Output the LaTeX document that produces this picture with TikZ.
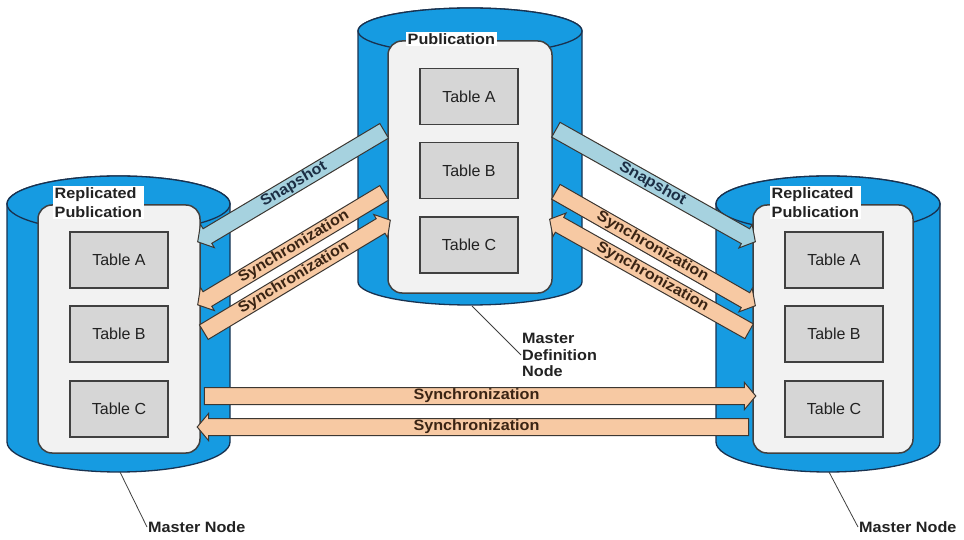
\documentclass[tikz,border=0pt]{standalone}
\usepackage{fontspec}
\setmainfont{Liberation Sans}
\newfontfamily\labfont[FakeStretch=1.08]{Liberation Sans}
\usetikzlibrary{calc,shapes.arrows}
\definecolor{cylblue}{RGB}{22,155,225}
\definecolor{cylline}{RGB}{25,50,80}
\definecolor{boxfill}{RGB}{242,242,242}
\definecolor{boxline}{RGB}{64,64,64}
\definecolor{tabfill}{RGB}{214,214,214}
\definecolor{snapfill}{RGB}{166,210,223}
\definecolor{syncfill}{RGB}{247,201,163}
\definecolor{arrline}{RGB}{60,55,50}
\definecolor{synctext}{RGB}{58,36,20}
\definecolor{snaptext}{RGB}{28,46,68}
\definecolor{txt}{RGB}{34,34,34}
\tikzset{
  cyl/.style={fill=cylblue, draw=cylline, line width=1.3pt},
  innerbox/.style={draw=boxline, fill=boxfill, line width=1.5pt, rounded corners=14pt},
  tablebox/.style={draw=boxline, fill=tabfill, line width=1.5pt, minimum width=98pt, minimum height=56pt, inner sep=0pt, font=\fontsize{16}{18}\selectfont, text=txt},
  titlelab/.style={fill=white, inner sep=1.5pt, font=\labfont\bfseries\fontsize{15}{19}\selectfont, text=txt, align=left},
  blockarr/.style={single arrow, draw=arrline, line width=1pt, single arrow head extend=5pt, single arrow tip angle=100, inner xsep=2pt, inner ysep=0.75pt, text height=11pt, text depth=3.5pt, font=\labfont\bfseries\fontsize{15}{17}\selectfont},
  snaparr/.style={blockarr, fill=snapfill, text=snaptext},
  syncarr/.style={blockarr, fill=syncfill, text=synctext},
  headleft/.style={shape border rotate=180},
  leader/.style={draw=boxline, line width=0.8pt},
  nodelabel/.style={inner sep=1pt, font=\labfont\bfseries\fontsize{15}{16.5}\selectfont, text=txt, align=left},
}
\newcommand\blockarrow[4]{%
  \path let \p1=(#2), \p2=(#3), \n1={atan2(\y2-\y1,\x2-\x1)}, \n2={veclen(\x2-\x1,\y2-\y1)} in
    node[#1, rotate=\n1, minimum height=\n2] at ($(\p1)!0.5!(\p2)$) {#4};}
\begin{document}
\begin{tikzpicture}[x=1pt, y=-1pt]
\useasboundingbox[fill=white] (0,0) rectangle (964,540);
% cylinders
\filldraw[cyl] (358,31) -- (358,282) arc[start angle=180, end angle=360, x radius=112pt, y radius=23pt] -- (582,31) arc[start angle=0, end angle=180, x radius=112pt, y radius=23pt] -- cycle;
\draw[cyl] (470,31) ellipse [x radius=112pt, y radius=23pt];
\filldraw[cyl] (7,204) -- (7,442) arc[start angle=180, end angle=360, x radius=111.5pt, y radius=30pt] -- (230,204) arc[start angle=0, end angle=180, x radius=111.5pt, y radius=28pt] -- cycle;
\draw[cyl] (118.5,204) ellipse [x radius=111.5pt, y radius=28pt];
\filldraw[cyl] (716,204) -- (716,442) arc[start angle=180, end angle=360, x radius=112pt, y radius=30pt] -- (940,204) arc[start angle=0, end angle=180, x radius=112pt, y radius=28pt] -- cycle;
\draw[cyl] (828,204) ellipse [x radius=112pt, y radius=28pt];
% inner boxes
\node[innerbox, minimum width=164pt, minimum height=252pt] (topin) at (470,167) {};
\node[innerbox, minimum width=162pt, minimum height=248pt] (leftin) at (119,329) {};
\node[innerbox, minimum width=160pt, minimum height=248pt] (rightin) at (833,329) {};
% tables
\node[tablebox] (tTA) at (469,96.5) {Table A};
\node[tablebox] (tTB) at (469,170.5) {Table B};
\node[tablebox] (tTC) at (469,245) {Table C};
\node[tablebox] (lTA) at (119,260) {Table A};
\node[tablebox] (lTB) at (119,334) {Table B};
\node[tablebox] (lTC) at (119,409) {Table C};
\node[tablebox] (rTA) at (834,260) {Table A};
\node[tablebox] (rTB) at (834,334) {Table B};
\node[tablebox] (rTC) at (834,409) {Table C};
% titles
\node[titlelab, anchor=west] (ttitle) at (406,39) {Publication};
\node[titlelab, anchor=north west] (ltitle) at (53,186) {Replicated\\Publication};
\node[titlelab, anchor=north west] (rtitle) at (770,186) {Replicated\\Publication};
% arrow end points
\coordinate (lsnapT) at (topin.west |- 0,129);
\coordinate (lsnapL) at (leftin.east |- 0,240);
\coordinate (lsyncaT) at (topin.west |- 0,191);
\coordinate (lsyncaL) at (leftin.east |- 0,303);
\coordinate (lsyncbT) at (topin.west |- 0,222);
\coordinate (lsyncbL) at (leftin.east |- 0,334);
\coordinate (rsnapT) at (topin.east |- 0,128);
\coordinate (rsnapR) at (rightin.west |- 0,240);
\coordinate (rsyncaT) at (topin.east |- 0,190);
\coordinate (rsyncaR) at (rightin.west |- 0,304);
\coordinate (rsyncbT) at (topin.east |- 0,221);
\coordinate (rsyncbR) at (rightin.west |- 0,333);
\coordinate (hsaL) at (leftin.east |- 0,396);
\coordinate (hsaR) at (rightin.west |- 0,396);
\coordinate (hsbL) at (leftin.east |- 0,427);
\coordinate (hsbR) at (rightin.west |- 0,427);
% arrows
\blockarrow{snaparr,headleft}{lsnapL}{lsnapT}{Snapshot}
\blockarrow{syncarr,headleft}{lsyncaL}{lsyncaT}{Synchronization}
\blockarrow{syncarr}{lsyncbL}{lsyncbT}{Synchronization}
\blockarrow{snaparr}{rsnapT}{rsnapR}{Snapshot}
\blockarrow{syncarr}{rsyncaT}{rsyncaR}{Synchronization}
\blockarrow{syncarr,headleft}{rsyncbT}{rsyncbR}{Synchronization}
\blockarrow{syncarr}{hsaL}{hsaR}{Synchronization}
\blockarrow{syncarr,headleft}{hsbL}{hsbR}{Synchronization}
% leaders
\coordinate (tcb) at (472,306);
\node[nodelabel, anchor=west] (mdn) at (521,355) {Master\\Definition\\Node};
\draw[leader] (tcb) -- (mdn.west);
\coordinate (lcb) at (120,472);
\node[nodelabel, anchor=west] (lmn) at (147,527) {Master Node};
\draw[leader] (lcb) -- (lmn.west);
\coordinate (rcb) at (829,472);
\node[nodelabel, anchor=west] (rmn) at (858,527) {Master Node};
\draw[leader] (rcb) -- (rmn.west);
\end{tikzpicture}
\end{document}
